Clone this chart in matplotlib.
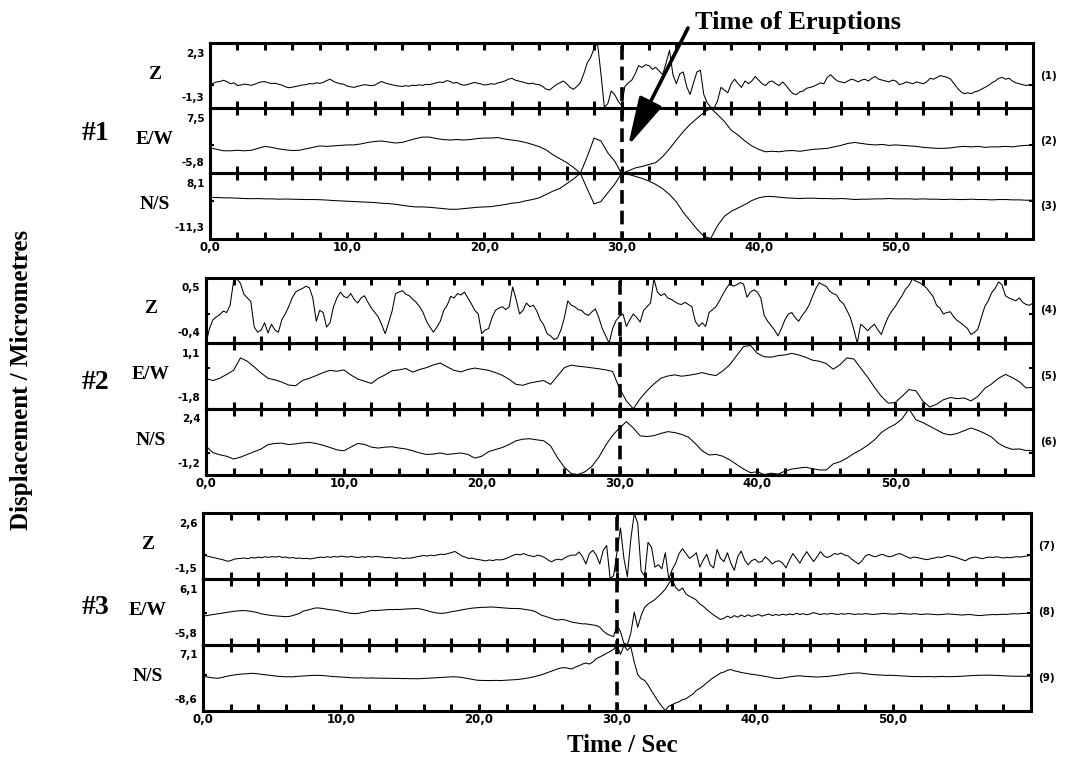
import numpy as np
import matplotlib.pyplot as plt
from matplotlib.patches import FancyArrowPatch

plt.rcParams['font.family'] = ['Liberation Serif', 'DejaVu Serif']

W, H = 1066, 759

# ---- digitised records (micrometres); Z traces sampled every 0.25 s, others as noted ----
s1_z = [
    0.00, 0.08, 0.15, 0.18, 0.24, 0.16, 0.05, 0.10, -0.05, -0.02, 0.03, 0.00,
    -0.04, 0.02, 0.10, 0.15, 0.17, 0.10, 0.06, 0.08, 0.02, -0.03, -0.12, -0.17,
    -0.14, -0.10, -0.06, -0.02, 0.00, 0.06, 0.04, 0.10, 0.07, 0.12, 0.22, 0.30,
    0.18, 0.10, 0.05, 0.02, -0.08, -0.12, -0.15, -0.10, -0.05, 0.00, -0.03, -0.06,
    -0.03, 0.08, 0.17, 0.10, 0.04, 0.00, -0.05, -0.08, -0.10, -0.06, -0.09, -0.03,
    -0.05, -0.01, -0.04, 0.02, 0.00, 0.05, 0.10, 0.14, 0.12, 0.22, 0.18, 0.08,
    0.12, 0.02, -0.03, 0.00, 0.06, 0.12, 0.08, 0.04, -0.02, 0.00, 0.05, 0.02,
    0.10, 0.14, 0.20, 0.30, 0.35, 0.25, 0.20, 0.15, 0.10, 0.05, 0.08, 0.02,
    0.00, -0.10, -0.25, -0.30, -0.15, 0.00, 0.10, 0.20, 0.05, -0.15, -0.26, -0.10,
    0.10, 0.60, 1.20, 1.50, 2.00, 2.30, 0.60, -1.25, -1.05, -0.35, -0.55, -0.90,
    -1.15, -0.10, 0.10, 0.25, 0.60, 1.05, 0.95, 1.10, 1.05, 0.85, 0.95, 0.75,
    0.55, 1.20, 1.90, 0.55, 0.05, 0.60, 0.70, -0.10, -0.55, 0.10, 0.70, 0.80,
    -0.55, -1.00, -1.25, -1.30, -0.90, -0.15, -0.30, -0.45, 0.05, 0.30, 0.05, -0.15,
    0.20, 0.05, 0.20, 0.45, 0.25, 0.05, -0.05, 0.15, 0.20, 0.05, -0.05, 0.15,
    -0.05, -0.30, -0.50, -0.55, -0.40, -0.35, -0.20, -0.15, -0.10, 0.00, 0.10, 0.05,
    0.40, 0.55, 0.35, 0.20, 0.15, 0.10, 0.20, 0.30, 0.25, 0.15, 0.25, 0.30,
    0.20, 0.35, 0.45, 0.30, 0.25, 0.20, 0.15, 0.25, 0.20, 0.00, 0.05, 0.15,
    0.10, 0.05, 0.15, 0.10, 0.05, 0.15, 0.35, 0.30, 0.40, 0.50, 0.45, 0.40,
    0.30, 0.05, -0.20, -0.40, -0.50, -0.45, -0.50, -0.40, -0.35, -0.25, -0.15, -0.05,
    0.10, 0.20, 0.35, 0.40, 0.30, 0.35, 0.20, 0.10, 0.05, 0.00, -0.05, 0.00,
    0.00]

# 0.5 s samples
s1_ew = [
    -0.6, -0.9, -1.2, -1.2, -1.1, -1.2, -1.1, -0.7, -0.3, -0.5,
    -0.8, -1.0, -1.15, -1.1, -0.8, -0.5, -0.2, -0.3, -0.2, -0.1,
    0.0, 0.0, 0.2, 0.5, 0.7, 0.8, 0.6, 0.4, 0.5, 0.9,
    1.3, 1.6, 1.6, 1.3, 1.1, 1.0, 1.1, 1.0, 1.1, 1.3,
    1.4, 1.4, 1.5, 1.2, 1.0, 0.8, 0.5, 0.1, -0.35, -1.0,
    -2.0, -2.8, -3.6, -4.6, -5.8, -2.4, 1.4, 0.8, -1.6, -3.3,
    -5.8, -5.3, -4.7, -4.4, -4.0, -3.6, -2.4, -0.8, 1.0, 2.7,
    4.2, 5.4, 6.6, 7.5, 6.2, 4.8, 3.0, 2.0, 0.8, -0.2,
    -0.9, -1.4, -1.3, -1.4, -1.2, -1.15, -1.3, -1.1, -0.9, -0.8,
    -0.7, -0.4, -0.1, 0.3, 0.5, 0.3, 0.1, 0.0, 0.1, -0.1,
    0.0, -0.1, -0.2, -0.3, -0.5, -0.6, -0.7, -0.7, -0.6, -0.4,
    -0.3, -0.4, -0.3, -0.5, -0.4, -0.4, -0.3, -0.4, -0.2, -0.1,
    0.0]

s1_ns = [
    0.9, 0.9, 0.8, 0.8, 0.7, 0.6, 0.55, 0.6, 0.5, 0.5,
    0.4, 0.45, 0.4, 0.35, 0.3, 0.3, 0.25, 0.15, 0.0, -0.1,
    -0.2, -0.3, -0.4, -0.5, -0.6, -0.8, -0.9, -1.1, -1.4, -1.7,
    -1.9, -1.9, -2.0, -2.2, -2.4, -2.6, -2.6, -2.4, -2.2, -2.0,
    -1.9, -1.8, -1.5, -1.2, -0.8, -0.6, -0.1, 0.3, 0.8, 1.8,
    2.8, 3.6, 5.0, 6.4, 8.1, 3.5, -1.0, -0.3, 2.3, 4.8,
    8.1, 7.8, 7.2, 6.6, 5.8, 4.8, 3.5, 1.8, -0.4, -3.5,
    -6.0, -8.5, -10.6, -11.3, -7.5, -4.7, -3.2, -2.2, -1.2, 0.0,
    0.8, 1.2, 1.2, 1.0, 0.8, 0.7, 0.6, 0.7, 0.7, 0.6,
    0.6, 0.5, 0.6, 0.5, 0.3, 0.4, 0.4, 0.5, 0.5, 0.6,
    0.5, 0.5, 0.5, 0.4, 0.5, 0.4, 0.4, 0.3, 0.4, 0.3,
    0.3, 0.4, 0.3, 0.3, 0.2, 0.3, 0.3, 0.2, 0.2, 0.1,
    0.1]

s2_z = [
    -0.40, -0.20, -0.08, -0.04, -0.01, 0.04, 0.02, 0.12, 0.45, 0.48, 0.42, 0.27,
    0.22, 0.17, -0.18, -0.25, -0.22, -0.12, -0.26, -0.14, -0.22, -0.25, -0.08, 0.00,
    0.10, 0.22, 0.30, 0.33, 0.35, 0.38, 0.36, 0.22, -0.10, 0.05, 0.02, -0.18,
    -0.12, 0.10, 0.22, 0.30, 0.24, 0.22, 0.28, 0.20, 0.15, 0.22, 0.25, 0.16,
    0.08, 0.02, -0.04, -0.15, -0.27, -0.12, 0.04, 0.28, 0.30, 0.32, 0.27, 0.25,
    0.20, 0.16, 0.10, 0.02, -0.10, -0.18, -0.25, -0.18, -0.10, 0.05, 0.12, 0.24,
    0.22, 0.28, 0.26, 0.30, 0.22, 0.14, 0.05, 0.00, -0.27, -0.22, -0.20, -0.05,
    0.05, 0.08, 0.10, 0.06, 0.10, 0.37, 0.20, 0.00, 0.05, 0.15, 0.10, 0.12,
    0.04, -0.08, -0.15, -0.27, -0.30, -0.35, -0.33, -0.22, -0.05, 0.18, 0.12, 0.10,
    0.06, 0.05, 0.00, -0.02, 0.03, 0.07, -0.05, -0.20, -0.30, -0.40, -0.20, -0.09,
    -0.03, 0.00, -0.17, -0.08, 0.00, -0.05, -0.11, 0.05, 0.10, 0.15, 0.48, 0.30,
    0.25, 0.28, 0.22, 0.20, 0.17, 0.14, 0.13, 0.16, 0.13, 0.10, -0.10, -0.17,
    -0.12, -0.17, 0.02, 0.06, 0.10, 0.18, 0.27, 0.35, 0.42, 0.38, 0.40, 0.43,
    0.41, 0.23, 0.30, 0.33, 0.30, 0.22, -0.02, -0.10, -0.16, -0.22, -0.30, -0.20,
    -0.08, 0.00, 0.02, -0.05, -0.10, -0.02, 0.04, 0.12, 0.24, 0.35, 0.43, 0.40,
    0.38, 0.31, 0.28, 0.26, 0.18, 0.14, 0.05, -0.05, -0.21, -0.40, -0.14, -0.18,
    -0.23, -0.18, -0.14, -0.22, -0.28, -0.15, -0.04, 0.04, 0.10, 0.18, 0.25, 0.34,
    0.39, 0.48, 0.45, 0.43, 0.40, 0.36, 0.30, 0.24, 0.12, 0.08, 0.00, 0.02,
    0.03, -0.04, -0.09, -0.12, -0.16, -0.20, -0.28, -0.25, -0.21, -0.05, 0.10, 0.18,
    0.29, 0.35, 0.44, 0.40, 0.25, 0.22, 0.20, 0.18, 0.22, 0.16, 0.13, 0.12,
    0.15]

# 0.5 s samples
s2_ew = [
    -0.46, -0.55, -0.45, -0.28, -0.10, 0.45, 0.30, 0.05, -0.22, -0.45,
    -0.52, -0.62, -0.75, -0.78, -0.55, -0.45, -0.33, -0.20, -0.10, -0.14,
    -0.08, -0.30, -0.48, -0.58, -0.68, -0.45, -0.30, -0.12, -0.08, -0.02,
    -0.18, -0.06, 0.02, 0.14, 0.22, 0.05, -0.10, -0.17, -0.06, 0.00,
    -0.05, -0.10, -0.20, -0.32, -0.50, -0.72, -0.76, -0.66, -0.60, -0.55,
    -0.72, -0.35, 0.02, 0.13, 0.08, 0.05, 0.01, -0.03, -0.08, -0.15,
    -0.90, -1.45, -1.80, -1.35, -1.00, -0.70, -0.45, -0.35, -0.30, -0.36,
    -0.32, -0.27, -0.20, -0.28, -0.33, -0.12, 0.15, 0.55, 0.95, 1.00,
    0.65, 0.50, 0.48, 0.55, 0.58, 0.65, 0.58, 0.48, 0.35, 0.30,
    0.20, -0.05, 0.15, 0.45, 0.40, 0.00, -0.40, -0.85, -1.25, -1.55,
    -1.52, -1.25, -0.95, -1.00, -1.45, -1.72, -1.60, -1.40, -1.30, -1.35,
    -1.32, -1.45, -1.25, -0.90, -0.70, -0.45, -0.28, -0.42, -0.60, -0.88,
    -0.85]

s2_ns = [
    0.35, 0.00, -0.12, -0.20, -0.35, -0.25, -0.10, 0.05, 0.20, 0.44,
    0.50, 0.52, 0.44, 0.48, 0.53, 0.56, 0.50, 0.40, 0.28, 0.15,
    0.10, 0.30, 0.50, 0.45, 0.30, 0.25, 0.30, 0.32, 0.25, 0.20,
    0.10, -0.02, -0.10, -0.08, -0.02, -0.10, -0.06, -0.02, -0.10, -0.30,
    -0.20, 0.05, 0.17, 0.28, 0.45, 0.65, 0.74, 0.76, 0.70, 0.65,
    0.37, -0.28, -0.80, -1.15, -1.20, -1.05, -0.75, -0.25, 0.40, 0.95,
    1.35, 1.70, 1.35, 0.92, 0.88, 0.93, 1.05, 1.15, 1.10, 1.00,
    0.85, 0.50, 0.10, -0.13, -0.10, -0.20, -0.40, -0.65, -0.90, -1.10,
    -1.05, -1.20, -1.13, -1.18, -1.02, -0.90, -0.85, -0.80, -0.88, -0.95,
    -0.95, -0.62, -0.50, -0.30, -0.05, 0.15, 0.40, 0.70, 1.10, 1.35,
    1.55, 1.85, 2.40, 1.80, 1.65, 1.45, 1.25, 1.05, 0.97, 1.05,
    1.20, 1.35, 1.22, 1.05, 0.85, 0.50, 0.30, 0.18, 0.20, 0.12,
    0.10]

s3_z = [
    0.10, -0.05, -0.10, -0.15, -0.20, -0.25, -0.30, -0.38, -0.35, -0.25, -0.22, -0.20,
    -0.18, -0.22, -0.15, -0.18, -0.12, -0.16, -0.10, -0.14, -0.09, -0.12, -0.08, -0.14,
    -0.12, -0.18, -0.15, -0.20, -0.18, -0.22, -0.20, -0.24, -0.20, -0.16, -0.12, -0.15,
    -0.10, -0.14, -0.08, -0.12, -0.06, -0.10, -0.12, -0.08, -0.12, -0.15, -0.10, -0.13,
    -0.08, -0.12, -0.08, -0.10, -0.12, -0.16, -0.14, -0.18, -0.20, -0.16, -0.22, -0.18,
    -0.19, -0.15, -0.10, -0.06, -0.02, -0.06, 0.00, -0.04, 0.02, 0.06, 0.04, 0.10,
    0.16, 0.23, 0.10, -0.05, -0.12, -0.21, -0.18, -0.25, -0.28, -0.32, -0.36, -0.30,
    -0.34, -0.28, -0.30, -0.27, -0.20, -0.10, 0.00, 0.06, 0.02, 0.10, 0.00, -0.05,
    -0.09, 0.00, -0.05, -0.15, -0.30, -0.42, -0.30, -0.25, -0.30, -0.15, -0.05, 0.00,
    0.00, 0.20, -0.10, -0.55, 0.10, 0.30, 0.00, -0.55, 0.30, 0.60, -1.45, -1.30,
    0.20, 1.70, -0.20, -1.35, 1.00, 2.60, 2.00, -1.00, -1.30, 0.80, 0.50, -0.75,
    -0.60, -0.85, 0.15, -1.50, -0.90, -0.50, 0.10, 0.40, 0.10, -0.20, -0.05, 0.15,
    -0.75, -0.30, 0.05, -0.60, -0.80, 0.35, -0.20, -0.40, 0.15, -0.50, -0.95, -0.10,
    0.25, -0.30, -0.60, -0.35, -0.25, -0.45, -0.40, -0.10, -0.30, -0.55, -0.40, -0.35,
    -0.50, -0.80, -0.30, 0.10, -0.20, -0.50, -0.10, 0.22, -0.10, -0.40, -0.10, 0.22,
    -0.05, -0.15, -0.05, 0.10, 0.05, 0.13, 0.00, -0.05, -0.25, -0.40, -0.55, -0.35,
    -0.05, 0.05, -0.05, -0.10, 0.00, 0.05, -0.05, -0.10, -0.05, 0.05, 0.10, 0.00,
    -0.10, -0.20, -0.12, -0.15, -0.20, -0.25, -0.28, -0.22, -0.18, -0.12, -0.15, -0.08,
    -0.02, -0.08, -0.12, -0.20, -0.28, -0.35, -0.22, -0.15, -0.12, -0.18, -0.22, -0.15,
    -0.12, -0.15, -0.10, -0.14, -0.18, -0.14, -0.16, -0.12, -0.10, -0.12, -0.08, -0.05,
    0.00]

s3_ew = [
    -0.60, -0.50, -0.40, -0.30, -0.20, -0.10, 0.00, 0.10, 0.20, 0.28, 0.35, 0.40,
    0.40, 0.35, 0.25, 0.15, 0.00, -0.20, -0.30, -0.40, -0.50, -0.55, -0.60, -0.65,
    -0.70, -0.65, -0.50, -0.30, -0.10, 0.30, 0.45, 0.60, 0.80, 0.90, 0.85, 0.75,
    0.65, 0.55, 0.50, 0.40, 0.25, 0.10, 0.00, -0.10, -0.15, -0.10, 0.05, 0.15,
    0.30, 0.45, 0.40, 0.45, 0.50, 0.55, 0.60, 0.58, 0.62, 0.60, 0.65, 0.70,
    0.72, 0.75, 0.78, 0.70, 0.55, 0.40, 0.20, 0.05, -0.05, -0.10, -0.05, 0.05,
    0.20, 0.30, 0.40, 0.55, 0.65, 0.75, 0.85, 0.90, 0.95, 1.00, 1.00, 1.05,
    1.05, 1.00, 0.95, 0.90, 0.85, 0.80, 0.80, 0.78, 0.75, 0.65, 0.55, 0.45,
    0.30, 0.00, -0.40, -0.60, -0.80, -1.00, -1.20, -1.30, -1.20, -1.30, -1.50, -1.70,
    -1.80, -1.90, -2.00, -2.00, -2.10, -2.20, -2.30, -2.60, -3.30, -3.80, -4.10, -4.30,
    -2.20, -3.40, -5.50, -5.80, -3.70, 0.15, -2.60, -0.50, 1.00, 1.60, 2.00, 2.40,
    3.00, 3.60, 4.30, 5.30, 6.10, 4.60, 4.00, 4.50, 3.40, 3.00, 2.70, 2.30,
    1.60, 1.20, 0.60, 0.10, -0.40, -0.80, -1.20, -1.00, -0.60, -0.90, -0.50, -0.80,
    -0.40, -0.70, -0.35, -0.65, -0.50, -0.30, -0.60, -0.40, -0.20, -0.50, -0.30, -0.45,
    -0.25, -0.40, -0.20, -0.35, -0.10, -0.30, -0.15, -0.35, -0.20, 0.05, -0.15, -0.30,
    -0.15, -0.25, -0.10, -0.20, -0.30, -0.15, -0.25, -0.10, -0.20, -0.30, -0.20, -0.25,
    -0.15, -0.20, -0.30, -0.25, -0.20, -0.10, -0.15, -0.20, -0.25, -0.20, -0.10, -0.15,
    -0.20, -0.25, -0.15, -0.20, -0.30, -0.25, -0.20, -0.25, -0.30, -0.35, -0.30, -0.25,
    -0.20, -0.25, -0.30, -0.35, -0.40, -0.35, -0.30, -0.35, -0.45, -0.50, -0.45, -0.40,
    -0.35, -0.30, -0.35, -0.30, -0.25, -0.30, -0.20, -0.15, -0.20, -0.15, -0.10, -0.10,
    -0.10]

s3_ns = [
    -0.40, -0.55, -0.70, -0.80, -0.90, -0.80, -0.60, -0.40, -0.25, -0.10, 0.00, 0.10,
    0.15, 0.20, 0.30, 0.25, 0.15, 0.05, -0.05, -0.15, -0.25, -0.35, -0.45, -0.50,
    -0.55, -0.52, -0.55, -0.45, -0.40, -0.35, -0.30, -0.25, -0.20, -0.22, -0.20, -0.28,
    -0.35, -0.45, -0.50, -0.55, -0.60, -0.65, -0.70, -0.78, -0.80, -0.82, -0.78, -0.85,
    -0.85, -0.80, -0.88, -0.85, -0.90, -0.88, -0.92, -0.90, -0.95, -0.92, -0.98, -0.95,
    -1.00, -0.98, -1.02, -0.98, -0.95, -0.90, -0.85, -0.80, -0.75, -0.70, -0.65, -0.60,
    -0.55, -0.55, -0.60, -0.70, -0.85, -1.00, -1.15, -1.30, -1.40, -1.40, -1.42, -1.45,
    -1.42, -1.40, -1.45, -1.40, -1.35, -1.30, -1.25, -1.20, -1.10, -1.00, -0.85, -0.70,
    -0.50, -0.30, -0.10, 0.20, 0.50, 0.80, 1.10, 1.40, 1.60, 1.65, 1.45, 1.35,
    1.80, 2.10, 2.50, 2.75, 2.50, 3.00, 3.80, 4.20, 4.60, 5.10, 5.50, 6.00,
    7.10, 4.80, 6.90, 5.80, 6.60, 3.00, 0.00, -1.00, -1.40, -2.50, -3.90, -5.20,
    -6.50, -7.60, -8.60, -7.60, -7.20, -6.80, -6.50, -6.00, -5.80, -5.20, -4.70, -3.80,
    -3.30, -2.70, -2.00, -1.30, -0.70, -0.20, 0.35, 0.60, 1.00, 1.20, 0.90, 0.70,
    0.50, 0.35, 0.20, 0.05, -0.05, -0.15, -0.30, -0.45, -0.60, -0.80, -0.90, -0.95,
    -0.85, -0.70, -0.55, -0.45, -0.35, -0.30, -0.40, -0.45, -0.50, -0.55, -0.60, -0.55,
    -0.50, -0.45, -0.35, -0.25, -0.15, -0.05, 0.10, 0.20, 0.30, 0.35, 0.40, 0.30,
    0.20, 0.10, 0.00, -0.05, -0.10, -0.15, -0.20, -0.18, -0.20, -0.25, -0.30, -0.35,
    -0.40, -0.45, -0.50, -0.48, -0.50, -0.52, -0.48, -0.50, -0.55, -0.50, -0.45, -0.50,
    -0.52, -0.50, -0.48, -0.45, -0.40, -0.35, -0.30, -0.25, -0.20, -0.18, -0.15, -0.15,
    -0.15, -0.18, -0.20, -0.25, -0.30, -0.35, -0.38, -0.40, -0.40, -0.42, -0.40, -0.40,
    -0.40]

stations = ['#1', '#2', '#3']
channels = ['Z', 'E/W', 'N/S']
traces = [
    [(s1_z, 0.25), (s1_ew, 0.5), (s1_ns, 0.5)],
    [(s2_z, 0.25), (s2_ew, 0.5), (s2_ns, 0.5)],
    [(s3_z, 0.25), (s3_ew, 0.25), (s3_ns, 0.25)],
]
# plotted range of each strip (bottom, top)
ranges = [
    [(-1.3, 2.3), (-5.8, 7.5), (-11.3, 8.1)],
    [(-0.4, 0.5), (-1.8, 1.1), (-1.2, 2.4)],
    [(-1.5, 2.6), (-5.8, 6.1), (-8.6, 7.1)],
]
eruption_time = 30.0
t_max = 60.0
tick_times = np.arange(0, 60, 2)
label_times = [0, 10, 20, 30, 40, 50]

# panel frames in pixels: left, right, top, bottom
panel_px = [(210, 1033, 43, 238.5), (206, 1033, 277.5, 474.5), (203, 1031, 513.5, 710.5)]
station_y = [133, 382, 607]


def comma(v):
    return f'{v:.1f}'.replace('.', ',')


fig = plt.figure(figsize=(W / 100, H / 100), dpi=100)
fig.patch.set_facecolor('white')

tick_font = dict(family='DejaVu Sans', weight='bold')
label_font = dict(family='Liberation Serif', weight='bold')

n = 1
for p, (left, right, top, bottom) in enumerate(panel_px):
    h = (bottom - top) / 3
    for k in range(3):
        y0 = top + k * h
        ax = fig.add_axes([left / W, 1 - (y0 + h) / H, (right - left) / W, h / H])
        ax.patch.set_visible(False)
        vals, step = traces[p][k]
        t = np.arange(len(vals)) * step
        ax.plot(t, vals, color='black', lw=0.75, clip_on=False)
        lo, hi = ranges[p][k]
        ax.set_xlim(0, t_max)
        ax.set_ylim(lo, hi)
        for s in ax.spines.values():
            s.set_linewidth(2.2)
        ax.set_xticks(tick_times)
        ax.set_xticklabels([comma(v) if v in label_times else '' for v in tick_times],
                           fontsize=8.5, **tick_font)
        ax.tick_params(axis='x', direction='in', top=True, bottom=True,
                       length=5, width=2.2, pad=2, labelbottom=(k == 2))
        ax.set_yticks([0])
        ax.set_yticklabels([])
        ax.tick_params(axis='y', direction='in', left=True, right=True,
                       length=3, width=1.5)

        ax.annotate(comma(hi), xy=(0, 1), xycoords='axes fraction', xytext=(-4, -4),
                    textcoords='offset points', ha='right', va='top', fontsize=7.5, **tick_font)
        ax.annotate(comma(lo), xy=(0, 0), xycoords='axes fraction', xytext=(-4, 4),
                    textcoords='offset points', ha='right', va='bottom', fontsize=7.5, **tick_font)
        ax.annotate(channels[k], xy=(0, 0.5), xycoords='axes fraction', xytext=(-40, 1),
                    textcoords='offset points', ha='center', va='center', fontsize=14, **label_font)
        ax.annotate(f'({n})', xy=(1, 0.5), xycoords='axes fraction', xytext=(5, 0),
                    textcoords='offset points', ha='left', va='center', fontsize=7.5, **tick_font)
        n += 1
        if k == 0:
            # dashed marker of the eruption time through all three strips
            ax.plot([eruption_time, eruption_time], [0.95, -2.03], transform=ax.get_xaxis_transform(),
                    color='black', lw=2.6, ls=(0, (3.8, 1.9)), clip_on=False, zorder=5)
    fig.text(96 / W, 1 - station_y[p] / H, stations[p], ha='center', va='center',
             fontsize=20, **label_font)

fig.text(22 / W, 1 - 380 / H, 'Displacement / Micrometres', rotation=90,
         ha='center', va='center', fontsize=18, **label_font)
fig.text(622 / W, 1 - 746 / H, 'Time / Sec', ha='center', va='center', fontsize=18, **label_font)
fig.text(695 / W, 1 - 22 / H, 'Time of Eruptions', ha='left', va='center', fontsize=19, **label_font)
fig.add_artist(FancyArrowPatch(
    (688 / W, 1 - 28 / H), (628 / W, 1 - 146 / H), transform=fig.transFigure,
    arrowstyle='-|>,head_length=1.5,head_width=0.38', mutation_scale=20,
    lw=2.6, color='black', shrinkA=0, shrinkB=0))

fig.savefig('out.png', dpi=100)
